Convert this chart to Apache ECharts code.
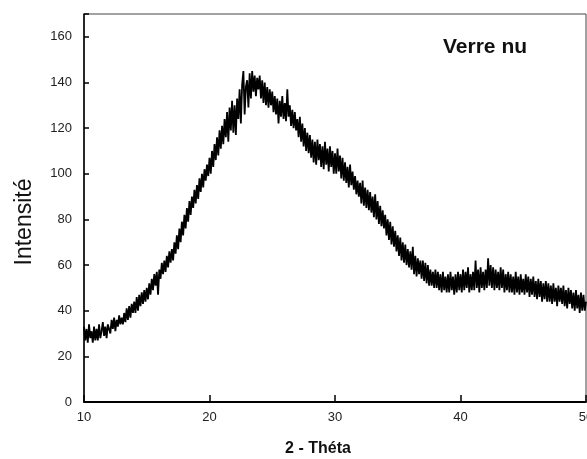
<!DOCTYPE html>
<html>
<head>
<meta charset="utf-8">
<script src="https://cdn.jsdelivr.net/npm/echarts@6/dist/echarts.min.js"></script>
<style>
  html, body { margin: 0; padding: 0; background: #fff; }
  #chart { width: 587px; height: 459px; }
</style>
</head>
<body>
<div id="chart"></div>
<script>
// Diffractogram of the bare glass sample: intensity sampled every 0.1° of 2θ
const thetaStart = 10;
const thetaStep = 0.1;
const intensity = [
  33, 27, 32, 26, 34, 28, 31, 26, 33, 27,
  32, 27, 34, 28, 31, 35, 29, 33, 28, 34,
  34, 30, 36, 32, 37, 31, 36, 33, 38, 34,
  37, 34, 39, 35, 41, 36, 42, 37, 43, 39,
  44, 39, 46, 40, 47, 42, 48, 43, 49, 44,
  50, 45, 52, 47, 54, 49, 56, 51, 57, 47,
  58, 54, 61, 56, 62, 57, 64, 59, 66, 61,
  67, 62, 70, 65, 73, 67, 76, 70, 79, 73,
  82, 76, 85, 79, 88, 82, 90, 85, 93, 87,
  95, 89, 98, 92, 100, 94, 102, 97, 104, 99,
  107, 100, 110, 103, 113, 106, 116, 108, 119, 111,
  121, 113, 124, 116, 127, 114, 129, 119, 132, 118,
  130, 117, 133, 124, 137, 122, 139, 145, 126, 138,
  141, 129, 144, 133, 145, 136, 143, 134, 142, 137,
  143, 133, 141, 131, 140, 130, 138, 129, 137, 130,
  136, 127, 134, 126, 133, 122, 132, 125, 134, 124,
  131, 123, 137, 125, 130, 121, 128, 120, 127, 119,
  124, 116, 125, 114, 122, 112, 120, 110, 118, 109,
  117, 107, 115, 105, 114, 104, 115, 106, 113, 103,
  112, 102, 114, 104, 111, 101, 112, 103, 110, 100,
  109, 100, 111, 101, 108, 98, 107, 97, 105, 96,
  103, 94, 104, 95, 101, 93, 99, 91, 97, 90,
  96, 87, 97, 86, 94, 85, 93, 84, 92, 83,
  90, 81, 91, 80, 88, 78, 86, 77, 84, 76,
  82, 73, 80, 71, 79, 69, 77, 68, 75, 66,
  73, 64, 72, 62, 70, 61, 69, 60, 67, 59,
  66, 58, 68, 56, 64, 55, 63, 56, 62, 54,
  62, 53, 61, 52, 60, 51, 58, 51, 57, 50,
  58, 50, 57, 49, 56, 48, 57, 49, 55, 48,
  56, 48, 57, 49, 55, 47, 56, 48, 57, 49,
  56, 48, 58, 49, 57, 50, 59, 48, 56, 49,
  57, 49, 62, 50, 58, 48, 59, 50, 57, 49,
  58, 50, 63, 51, 60, 50, 59, 49, 58, 50,
  57, 49, 59, 50, 58, 48, 56, 49, 57, 48,
  56, 48, 55, 47, 57, 48, 55, 47, 56, 48,
  54, 47, 56, 48, 55, 46, 54, 47, 55, 46,
  53, 45, 54, 46, 53, 44, 52, 45, 53, 44,
  52, 44, 51, 43, 52, 44, 50, 42, 51, 44,
  50, 43, 51, 42, 49, 41, 50, 43, 49, 41,
  48, 40, 49, 41, 47, 39, 48, 40, 47, 40,
  44
];
const xTicks = [10, 20, 30, 40, 50];
const yTicks = [0, 20, 40, 60, 80, 100, 120, 140, 160];
const sampleLabel = 'Verre nu';
const xTitle = '2 - Théta';
const yTitle = 'Intensité';

const points = intensity.map((v, i) => [+(thetaStart + i * thetaStep).toFixed(2), v]);

const chart = echarts.init(document.getElementById('chart'), null, { renderer: 'canvas' });
const font = "'Liberation Sans', Arial, sans-serif";

chart.setOption({
  animation: false,
  backgroundColor: '#fff',
  grid: {
    left: 84, right: 1, top: 14, bottom: 57,
    outerBoundsMode: 'none',
    containLabel: false,
    show: true, borderColor: '#444', borderWidth: 1
  },
  xAxis: {
    type: 'value',
    min: xTicks[0], max: xTicks[xTicks.length - 1], interval: 10,
    splitLine: { show: false },
    axisLine: { show: true, onZero: false, lineStyle: { color: '#000', width: 2 } },
    axisTick: { show: true, inside: true, length: 7, lineStyle: { color: '#000', width: 1.5 } },
    axisLabel: {
      margin: 9, color: '#222', fontFamily: font, fontSize: 13,
      formatter: v => xTicks.includes(v) ? String(v) : ''
    }
  },
  yAxis: {
    type: 'value',
    min: 0, max: 170, interval: 20,
    splitLine: { show: false },
    axisLine: { show: true, onZero: false, lineStyle: { color: '#000', width: 1.5 } },
    axisTick: { show: true, inside: true, length: 5, lineStyle: { color: '#000', width: 1.5 } },
    axisLabel: {
      margin: 12, color: '#222', fontFamily: font, fontSize: 13,
      formatter: v => yTicks.includes(v) ? String(v) : ''
    }
  },
  series: [{
    type: 'line',
    data: points,
    showSymbol: false,
    lineStyle: { color: '#000', width: 1.8 },
    z: 3
  }],
  graphic: [
    {
      type: 'text', left: 443, top: 37,
      style: { text: sampleLabel, fill: '#111', font: "bold 21px 'Liberation Sans', Arial, sans-serif" }
    },
    {
      type: 'text', x: 318, y: 449,
      style: { text: xTitle, fill: '#111', align: 'center', verticalAlign: 'middle',
               font: "bold 16px 'Liberation Sans', Arial, sans-serif" }
    },
    {
      type: 'text', x: 25, y: 222, rotation: Math.PI / 2,
      style: { text: yTitle, fill: '#111', align: 'center', verticalAlign: 'middle',
               font: "23px 'Liberation Sans', Arial, sans-serif" }
    }
  ]
});
</script>
</body>
</html>
